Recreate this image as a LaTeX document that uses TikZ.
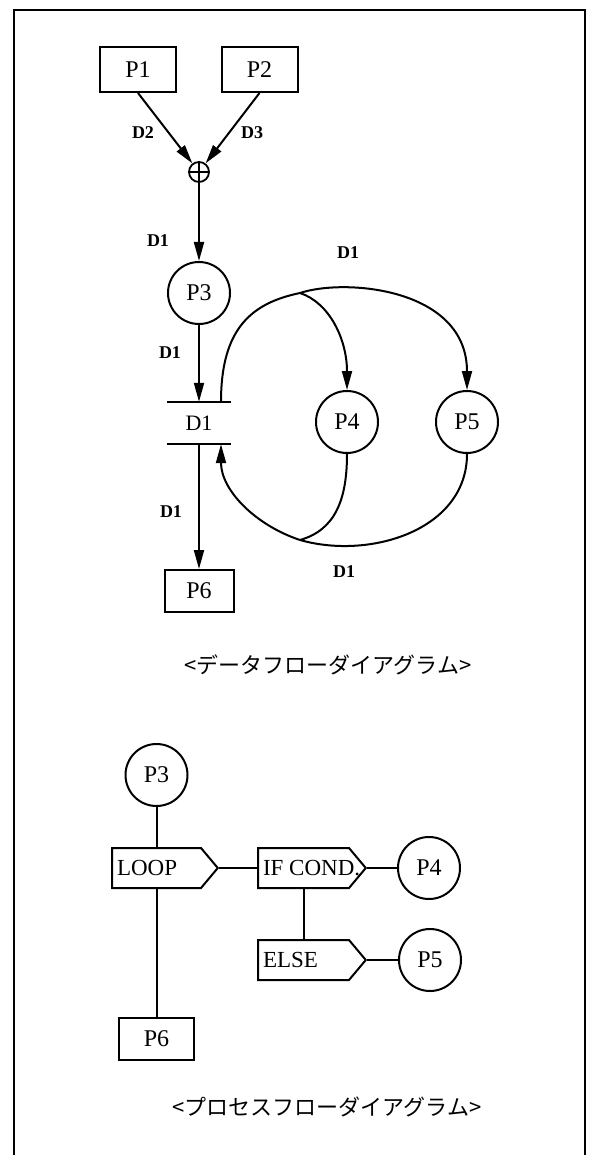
\documentclass[tikz,border=0pt]{standalone}
\usepackage{fontspec}
\setmainfont{Liberation Serif}
\newfontfamily\jp{Noto Sans CJK JP}
\usetikzlibrary{arrows.meta,shapes.symbols,calc}
\tikzset{
  ln/.style={line width=2pt},
  arr/.style={ln,-{Triangle[length=19pt,width=10pt]}},
  box/.style={draw,ln,rectangle,inner sep=0pt,font=\fontsize{24}{28}\selectfont},
  proc/.style={draw,ln,circle,inner sep=0pt,minimum size=62pt,font=\fontsize{24}{28}\selectfont},
  lbl/.style={font=\fontsize{18}{21}\selectfont\bfseries,inner sep=0pt},
  pent/.style={draw,ln,signal,signal to=east,signal from=nowhere,signal pointer angle=100,
    minimum height=40pt,inner xsep=5pt,inner ysep=0pt,anchor=west,line join=miter,
    font=\fontsize{23}{26}\selectfont},
  plusnode/.style={circle,draw,line width=1.8pt,minimum size=20pt,inner sep=0pt,
    path picture={\draw[line width=1.4pt] (path picture bounding box.north) -- (path picture bounding box.south)
      (path picture bounding box.west) -- (path picture bounding box.east);}},
  captext/.style={font=\jp\fontsize{22}{26}\selectfont,inner sep=0pt}
}
\begin{document}
\begin{tikzpicture}[x=1pt,y=-1pt]
\useasboundingbox (0,0) rectangle (590,1155);
\draw[ln,line width=2.2pt] (14,1155) -- (14,10) -- (585,10) -- (585,1155);

% ---------- data flow diagram ----------
\node[box,minimum width=76pt,minimum height=45pt] (P1) at (138,69.5) {P1};
\node[box,minimum width=76pt,minimum height=45pt] (P2) at (259.5,69.5) {P2};
\node[plusnode] (plus) at (199,172) {};
\node[proc] (P3) at (199,293) {P3};
\node[inner sep=0pt,minimum width=64pt,minimum height=42pt,font=\fontsize{22}{26}\selectfont] (store) at (199,423) {D1};
\draw[ln,line width=2.2pt] (store.north west) -- (store.north east) (store.south west) -- (store.south east);
\node[box,minimum width=69pt,minimum height=42pt] (P6) at (199,591) {P6};
\node[proc] (P4) at (347,422) {P4};
\node[proc] (P5) at (467,422) {P5};
\coordinate (s1) at ([xshift=22pt]store.north);
\coordinate (s2) at ([xshift=22pt]store.south);
\coordinate (j1) at (300,293);
\coordinate (j2) at (300,540);

\draw[arr] (P1.south) -- (plus);
\draw[arr] (P2.south) -- (plus);
\draw[arr] (plus) -- (P3);
\draw[arr] (P3.south) -- (store.north);
\draw[arr] (store.south) -- (P6.north);

\draw[ln] (s1) .. controls (221,328) and (252,303) .. (j1);
\draw[arr] (j1) .. controls (345,278) and (467,288) .. (P5.north);
\draw[arr] (j1) .. controls (330,303) and (347,340) .. (P4.north);
\draw[ln] (P5.south) .. controls (467,530) and (370,560) .. (j2);
\draw[ln] (P4.south) .. controls (347,500) and (335,530) .. (j2);
\draw[arr] (j2) .. controls (255,525) and (221,490) .. (s2);

\node[lbl] (l1) at (143,133) {D2};
\node[lbl] (l2) at (252,133) {D3};
\node[lbl] (l3) at (158,241) {D1};
\node[lbl] (l4) at (170,353) {D1};
\node[lbl] (l5) at (171,512) {D1};
\node[lbl] (l6) at (348,253) {D1};
\node[lbl] (l7) at (344,572) {D1};

\node[captext] (cap1) at (328,665) {<データフローダイアグラム>};

% ---------- process flow diagram ----------
\node[pent] (LOOP) at (111,868) {\makebox[79pt][l]{LOOP}};
\node[pent] (IF) at (257,868) {\makebox[81pt][l]{IF COND.}};
\node[pent] (ELSE) at (257,960) {\makebox[81pt][l]{ELSE}};
\node[proc] (Q3) at (LOOP.north |- 0,775) {P3};
\node[box,minimum width=75pt,minimum height=42pt] (Q6) at (LOOP.south |- 0,1039) {P6};
\node[proc] (Q4) at (429,868) {P4};
\node[proc] (Q5) at (430,960) {P5};

\draw[ln] (Q3.south) -- (LOOP.north);
\draw[ln] (LOOP.south) -- (Q6.north);
\draw[ln] (LOOP.east) -- (IF.west);
\draw[ln] (IF.east) -- (Q4.west);
\draw[ln] (IF.south) -- (ELSE.north);
\draw[ln] (ELSE.east) -- (Q5.west);

\node[captext] (cap2) at (327,1107) {<プロセスフローダイアグラム>};
\end{tikzpicture}
\end{document}
